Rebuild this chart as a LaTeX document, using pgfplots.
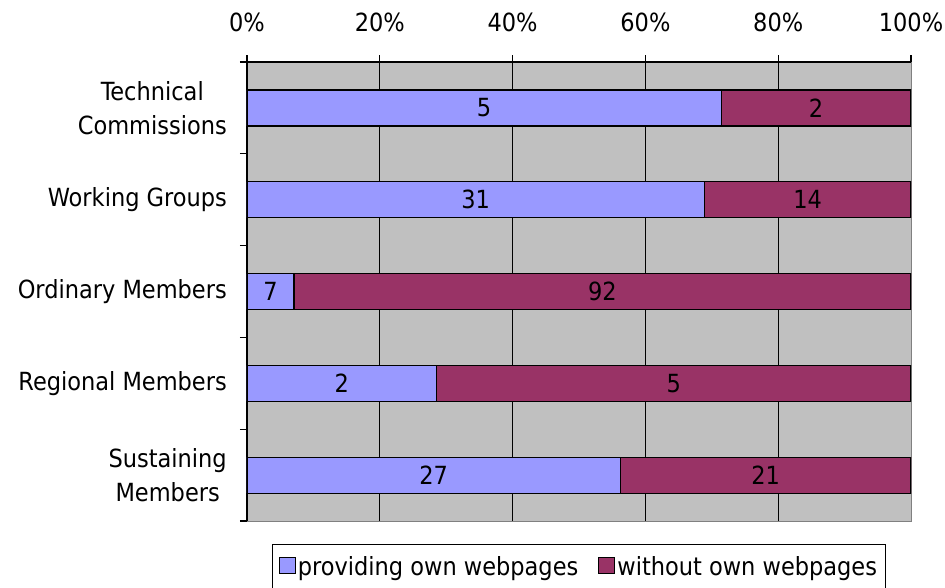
\documentclass[border=0pt]{standalone}
\usepackage{fontspec}
\setmainfont{DejaVu Sans Condensed}
\usepackage{pgfplots}
\pgfplotsset{compat=1.18}
\usepackage{pgfplotstable}
\definecolor{provc}{HTML}{9999FF}
\definecolor{withc}{HTML}{993366}
\definecolor{bgc}{HTML}{C0C0C0}
\definecolor{bordc}{HTML}{808080}
\pgfplotstableread{
idx prov without
0 5 2
1 31 14
2 7 92
3 2 5
4 27 21
}\datatable

\begin{document}
\begin{tikzpicture}[font=\fontsize{25}{34}\selectfont]
\useasboundingbox (0,0) rectangle (945pt,587pt);
\begin{axis}[
  at={(247pt,66pt)}, anchor=south west,
  scale only axis, width=664pt, height=459pt,
  xbar stacked, bar width=36pt,
  xmin=0, xmax=100, ymin=-0.5, ymax=4.5, y dir=reverse,
  axis x line*=top, axis y line*=left,
  axis line style={black, line width=1.2pt, -},
  xtick={0,20,...,100},
  xticklabels={0\%,20\%,40\%,60\%,80\%,100\%},
  xticklabel shift=20pt,
  extra x ticks={20,40,60,80}, extra x tick labels={},
  extra x tick style={grid=major},
  ytick={0,...,4},
  yticklabels={{Technical\\Commissions},Working Groups,Ordinary Members,Regional Members,{Sustaining\\Members}},
  yticklabel style={align=center, inner sep=0pt, xshift=-13pt},
  minor ytick={-0.5,0.5,...,4.5},
  every major y tick/.append style={draw=none},
  tick align=outside, major tick length=7pt, minor tick length=7pt,
  tick style={black, line width=1.2pt},
  grid style={black, line width=1.2pt},
  axis background/.style={fill=bgc, draw=bordc, line width=1pt},
  nodes near coords,
  point meta=explicit symbolic,
  every node near coord/.append style={anchor=center, black,
    font=\fontsize{25}{34}\selectfont},
  legend style={at={(0.5,-0.0501)}, anchor=north, legend columns=2,
    draw=black, line width=1pt, fill=white, inner xsep=6pt,
    nodes={inner xsep=2pt, inner ysep=10pt},
    /tikz/every even column/.append style={column sep=18pt}},
  legend image code/.code={\draw[#1, line width=1pt] (0pt,-7pt) rectangle (16pt,9pt);},
]
\addplot[fill=provc, draw=black, line width=1.2pt]
  table[x expr={\thisrow{prov}/(\thisrow{prov}+\thisrow{without})*100}, y=idx, meta=prov]{\datatable};
\addlegendentry{providing own webpages}
\addplot[fill=withc, draw=black, line width=1.2pt]
  table[x expr={\thisrow{without}/(\thisrow{prov}+\thisrow{without})*100}, y=idx, meta=without]{\datatable};
\addlegendentry{without own webpages}
\end{axis}
\end{tikzpicture}
\end{document}
